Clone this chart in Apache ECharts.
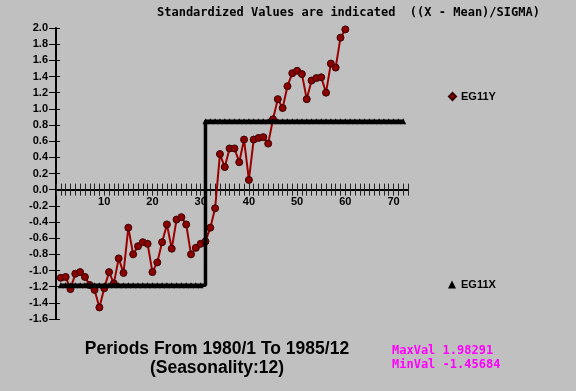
<!DOCTYPE html>
<html><head><meta charset="utf-8">
<script src="https://cdn.jsdelivr.net/npm/echarts@6/dist/echarts.min.js"></script>
<style>html,body{margin:0;padding:0;background:#c0c0c0}#c{width:576px;height:391px}</style>
</head><body><div id="c"></div>
<script>
const periods = [1,2,3,4,5,6,7,8,9,10,11,12,13,14,15,16,17,18,19,20,21,22,23,24,25,26,27,28,29,30,31,32,33,34,35,36,37,38,39,40,41,42,43,44,45,46,47,48,49,50,51,52,53,54,55,56,57,58,59,60,61,62,63,64,65,66,67,68,69,70,71,72];
const eg11y = [-1.09,-1.08,-1.23,-1.04,-1.02,-1.08,-1.18,-1.24,-1.45684,-1.22,
  -1.02,-1.16,-0.85,-1.03,-0.47,-0.80,-0.70,-0.65,-0.67,-1.02,
  -0.90,-0.65,-0.43,-0.73,-0.37,-0.34,-0.43,-0.80,-0.72,-0.67,
  -0.64,-0.47,-0.23,0.44,0.28,0.51,0.51,0.34,0.62,0.12,
  0.62,0.64,0.65,0.57,0.87,1.12,1.01,1.28,1.44,1.47,
  1.43,1.12,1.35,1.38,1.39,1.20,1.56,1.51,1.88,1.98291];
const eg11x = [-1.183,-1.183,-1.183,-1.183,-1.183,-1.183,-1.183,-1.183,-1.183,-1.183,
  -1.183,-1.183,-1.183,-1.183,-1.183,-1.183,-1.183,-1.183,-1.183,-1.183,
  -1.183,-1.183,-1.183,-1.183,-1.183,-1.183,-1.183,-1.183,-1.183,-1.183,
  0.845,0.845,0.845,0.845,0.845,0.845,0.845,0.845,0.845,0.845,
  0.845,0.845,0.845,0.845,0.845,0.845,0.845,0.845,0.845,0.845,
  0.845,0.845,0.845,0.845,0.845,0.845,0.845,0.845,0.845,0.845,
  0.845,0.845,0.845,0.845,0.845,0.845,0.845,0.845,0.845,0.845,
  0.845,0.845];
const xLabels = [10,20,30,40,50,60,70];
const titleText = 'Standardized Values are indicated  ((X - Mean)/SIGMA)';
const footer1 = 'Periods From 1980/1 To 1985/12';
const footer2 = '(Seasonality:12)';
const maxText = 'MaxVal 1.98291';
const minText = 'MinVal -1.45684';

const X_MIN = 0, X_MAX = 73, Y_MIN = -1.6, Y_MAX = 2.0;
const G = {left:56, top:28, width:352, height:291};
// upper grid ends exactly at the y = 0 line, so its x axis sits on zero
const zeroH = G.height * (Y_MAX - 0) / (Y_MAX - Y_MIN);

const chart = echarts.init(document.getElementById('c'), null, {renderer:'canvas'});
const lab = {fontFamily:'Liberation Sans, Arial', fontWeight:'bold', fontSize:11, color:'#000'};
chart.setOption({
  backgroundColor:'#c0c0c0',
  animation:false,
  grid:[
    {left:G.left, top:G.top, width:G.width, height:G.height, containLabel:false},
    {left:G.left, top:G.top, width:G.width, height:zeroH, containLabel:false}
  ],
  xAxis:[
    {type:'value', gridIndex:0, min:X_MIN, max:X_MAX, show:false},
    {type:'value', gridIndex:1, min:X_MIN, max:X_MAX, interval:1, position:'bottom',
     axisLine:{onZero:false, lineStyle:{color:'#000', width:2}},
     axisTick:{show:true, inside:false, length:6, lineStyle:{color:'#222', width:1}},
     axisLabel:Object.assign({margin:7, formatter:v=> xLabels.indexOf(v)>=0 ? String(v) : ''}, lab),
     splitLine:{show:false}},
    {type:'value', gridIndex:1, min:X_MIN, max:X_MAX, interval:1, position:'bottom',
     axisLine:{onZero:false, lineStyle:{color:'#000', width:2}},
     axisTick:{show:true, inside:true, length:6, lineStyle:{color:'#222', width:1}},
     axisLabel:{show:false}, splitLine:{show:false}}
  ],
  yAxis:[
    {type:'value', gridIndex:0, min:Y_MIN, max:Y_MAX, interval:0.2, position:'left',
     axisLine:{show:true, onZero:false, lineStyle:{color:'#000', width:2}},
     axisTick:{show:true, inside:false, length:7, lineStyle:{color:'#000', width:1}},
     axisLabel:Object.assign({margin:8, formatter:v=>v.toFixed(1)}, lab),
     splitLine:{show:false}},
    {type:'value', gridIndex:0, min:Y_MIN, max:Y_MAX, interval:0.2, position:'left', offset:0,
     axisLine:{show:false},
     axisTick:{show:true, inside:true, length:4, lineStyle:{color:'#000', width:1}},
     axisLabel:{show:false}, splitLine:{show:false}},
    {type:'value', gridIndex:1, min:0, max:Y_MAX, show:false}
  ],
  legend:[
    {data:[{name:'EG11Y', icon:'diamond'}], left:443, top:86, itemWidth:7, itemHeight:7,
     textStyle:lab, selectedMode:false},
    {data:[{name:'EG11X', icon:'triangle'}], left:443, top:274, itemWidth:8, itemHeight:8,
     textStyle:lab, selectedMode:false}
  ],
  series:[
    {name:'EG11Y', type:'line', xAxisIndex:0, yAxisIndex:0,
     data: eg11y.map((v,i)=>[periods[i], v]),
     symbol:'circle', symbolSize:7,
     itemStyle:{color:'#8b0000', borderColor:'#3a0000', borderWidth:1},
     lineStyle:{color:'#990000', width:2}, z:3},
    {name:'EG11X', type:'line', xAxisIndex:0, yAxisIndex:0,
     data: eg11x.map((v,i)=>[periods[i], v]),
     step:'end', symbol:'triangle', symbolSize:6,
     itemStyle:{color:'#000'}, lineStyle:{color:'#000', width:3.5}, z:4}
  ],
  graphic:[
    {type:'text', left:157, top:7, style:{text:titleText, fill:'#000', font:'bold 12px "DejaVu Sans Mono"'}},
    {type:'text', x:217, y:349, style:{text:footer1, fill:'#000', font:'bold 17.5px "Liberation Sans", Arial', align:'center', verticalAlign:'middle'}},
    {type:'text', x:217, y:368, style:{text:footer2, fill:'#000', font:'bold 17.5px "Liberation Sans", Arial', align:'center', verticalAlign:'middle'}},
    {type:'text', x:392, y:351, style:{text:maxText, fill:'#ff00ff', font:'bold 12px "DejaVu Sans Mono"', align:'left', verticalAlign:'middle'}},
    {type:'text', x:392, y:365, style:{text:minText, fill:'#ff00ff', font:'bold 12px "DejaVu Sans Mono"', align:'left', verticalAlign:'middle'}}
  ]
});
</script></body></html>
